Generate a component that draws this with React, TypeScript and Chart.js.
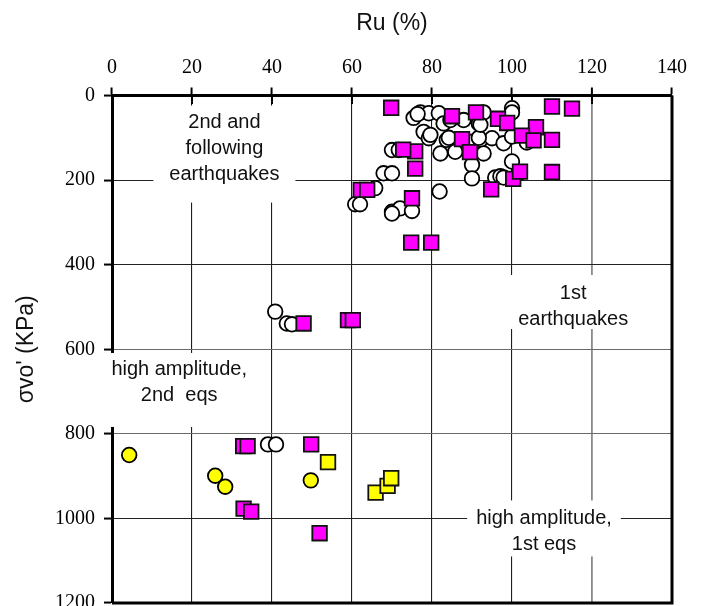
import { useEffect, useRef } from "react";
import { Chart, registerables } from "chart.js";

Chart.register(...registerables);

// ---- data (Ru %, σvo' kPa) ----
const magentaRu = [
  69.8, 110, 115, 106, 110, 110, 75.8, 75.8, 72.8, 75, 74.8, 79.8, 94.8, 62.2, 63.8,
  96.5, 98.8, 87.5, 89.5, 100.3, 102.5, 105.4, 85, 91, 102,
  47.9, 59.0, 60.2,
  32.8, 33.9, 49.8, 32.9, 34.8, 51.9,
];
const magentaSigma = [
  29, 26, 31, 75, 105, 181, 132, 173, 128, 243, 348, 348, 222, 223, 223,
  55, 65, 103, 134, 197, 95, 106, 49, 40, 180,
  539, 531, 531,
  829, 829, 825, 977, 984, 1035,
];

const whiteRu = [
  77.1, 79.2, 81.7, 82.9, 84.6, 87.9, 91.7, 92.9, 100, 100, 77.9, 79.2, 79.6, 83.7,
  85.8, 82.1, 90, 92.1, 95, 97.9, 100, 103.7, 92.9, 90, 90, 95.8, 97.1, 97.9, 100, 102,
  70, 71.7, 67.9, 70, 65.8, 60.8, 62, 70, 72, 75, 70, 81.9, 75.4, 76.4, 84.2, 91.7, 92.1,
  40.8, 43.7, 45,
  39, 41,
];
const whiteSigma = [
  40, 42, 42, 66, 58, 58, 66, 40, 30, 40, 86, 101, 93, 105,
  133, 137, 109, 105, 101, 113, 97, 111, 137, 164, 196, 194, 191, 194, 156, 182,
  129, 129, 184, 184, 219, 257, 257, 275, 267, 273, 279, 227, 53, 44, 100, 100, 69,
  511, 539, 541,
  825, 825,
];

const yellowCircleRu = [4.3, 25.8, 28.3, 49.7];
const yellowCircleSigma = [850, 899, 925, 910];

const yellowSquareRu = [54, 65.9, 68.9, 69.8];
const yellowSquareSigma = [867, 939, 923, 905];

const xMin = 0, xMax = 140, xStep = 20;
const yMin = 0, yMax = 1200, yStep = 200;

const xTitle = "Ru (%)";
const yTitle = "σvo' (KPa)";

const notes = [
  { lines: ["2nd and", "following", "earthquakes"], ru: 28.1, sigma: 64, padX: 16, up: 17, down: 28 },
  { lines: ["1st", "earthquakes"], ru: 115.3, sigma: 467, padX: 10, up: 18, down: 10 },
  { lines: ["high amplitude,", "2nd  eqs"], ru: 16.8, sigma: 649, padX: 12, up: 17, down: 31 },
  { lines: ["high amplitude,", "1st eqs"], ru: 108.0, sigma: 1000, padX: 9, up: 18, down: 12 },
];

const zip = (xs: number[], ys: number[]) => xs.map((x, i) => ({ x, y: ys[i] }));

const SANS = "'Liberation Sans', Arial, sans-serif";
const SERIF = "'Liberation Serif', 'Times New Roman', serif";

const framePlugin = {
  id: "frame",
  beforeDatasetsDraw(chart: any) {
    const { ctx, chartArea, scales } = chart;
    ctx.save();
    // inner half of the crossing ticks on the top axis
    ctx.strokeStyle = "#000";
    ctx.lineWidth = 2;
    for (let v = xMin; v <= xMax; v += xStep) {
      const px = scales.x.getPixelForValue(v);
      ctx.beginPath();
      ctx.moveTo(px, chartArea.top);
      ctx.lineTo(px, chartArea.top + 8.5);
      ctx.stroke();
    }
    // right and bottom frame
    ctx.lineWidth = 3;
    ctx.beginPath();
    ctx.moveTo(chartArea.left, chartArea.bottom);
    ctx.lineTo(chartArea.right, chartArea.bottom);
    ctx.lineTo(chartArea.right, chartArea.top);
    ctx.stroke();
    ctx.restore();
  },
  afterDraw(chart: any) {
    const { ctx, scales } = chart;
    ctx.save();
    ctx.font = `20px ${SANS}`;
    ctx.textAlign = "center";
    ctx.textBaseline = "middle";
    const lh = 26;
    for (const n of notes) {
      const cx = scales.x.getPixelForValue(n.ru);
      const cy = scales.y.getPixelForValue(n.sigma);
      const w = Math.max(...n.lines.map((l) => ctx.measureText(l).width));
      const top = cy - n.up;
      const bottom = cy + (n.lines.length - 1) * lh + n.down;
      ctx.fillStyle = "#fff";
      ctx.fillRect(cx - w / 2 - n.padX, top, w + 2 * n.padX, bottom - top);
      ctx.fillStyle = "#111";
      n.lines.forEach((l, i) => ctx.fillText(l, cx, cy + i * lh));
    }
    ctx.restore();
  },
};

export default function App() {
  const ref = useRef<HTMLCanvasElement | null>(null);
  useEffect(() => {
    if (!ref.current) return;
    const chart = new Chart(ref.current, {
      type: "scatter",
      data: {
        datasets: [
          {
            data: zip(magentaRu, magentaSigma),
            pointStyle: "rect",
            pointRadius: 10.3,
            backgroundColor: "#FF00FF",
            borderColor: "#111",
            borderWidth: 1.8,
          },
          {
            data: zip(yellowSquareRu, yellowSquareSigma),
            pointStyle: "rect",
            pointRadius: 10.3,
            backgroundColor: "#FFFF00",
            borderColor: "#111",
            borderWidth: 1.8,
          },
          {
            data: zip(whiteRu, whiteSigma),
            pointStyle: "circle",
            pointRadius: 7.3,
            backgroundColor: "#FFFFFF",
            borderColor: "#000",
            borderWidth: 1.8,
          },
          {
            data: zip(yellowCircleRu, yellowCircleSigma),
            pointStyle: "circle",
            pointRadius: 7.3,
            backgroundColor: "#FFFF00",
            borderColor: "#000",
            borderWidth: 1.8,
          },
        ] as any,
      },
      options: {
        animation: false,
        responsive: false,
        events: [],
        layout: { autoPadding: false, padding: { left: 0, top: 0, right: 32, bottom: 3 } },
        plugins: { legend: { display: false }, tooltip: { enabled: false } },
        scales: {
          x: {
            type: "linear",
            position: "top",
            min: xMin,
            max: xMax,
            ticks: {
              stepSize: xStep,
              font: { family: SERIF, size: 20 },
              color: "#000",
              padding: 8,
              callback: (v: any) => String(v),
            },
            grid: {
              color: (c: any) => {
                const v = c.tick?.value;
                if (v === xMin || v === xMax) return "rgba(0,0,0,0)";
                if (v === 120) return "#8a8a8a";
                return "#1e1e1e";
              },
              lineWidth: (c: any) => (c.tick?.value === 120 ? 1.8 : 1.1),
              drawTicks: true,
              tickLength: 8,
              tickWidth: 2,
              tickColor: "#000",
            },
            border: { display: true, color: "#000", width: 3 },
            title: {
              display: true,
              text: xTitle,
              font: { family: SANS, size: 23 },
              color: "#111",
              padding: { top: 10, bottom: 0 },
            },
            afterFit: (s: any) => {
              s.height = 95.5;
              s.paddingLeft = 0;
              s.paddingRight = 0;
            },
          },
          y: {
            type: "linear",
            position: "left",
            reverse: true,
            min: yMin,
            max: yMax,
            ticks: {
              stepSize: yStep,
              font: { family: SERIF, size: 20, lineHeight: 0.01 },
              color: "#000",
              padding: 9,
              callback: (v: any) => String(v),
            },
            grid: {
              color: (c: any) => {
                const v = c.tick?.value;
                if (v === yMin || v === yMax) return "rgba(0,0,0,0)";
                if (v === 600 || v === 800) return "#6a6a6a";
                return "#222";
              },
              lineWidth: 1.1,
              drawTicks: true,
              tickLength: 8,
              tickWidth: 2,
              tickColor: "#000",
            },
            border: { display: true, color: "#000", width: 3 },
            title: {
              display: true,
              text: yTitle,
              font: { family: SANS, size: 23 },
              color: "#111",
              padding: { top: 13, bottom: 0 },
            },
            afterFit: (s: any) => {
              s.width = 112;
              s.paddingTop = 0;
              s.paddingBottom = 0;
            },
          },
        },
      } as any,
      plugins: [framePlugin],
    });
    return () => chart.destroy();
  }, []);

  return (
    <div style={{ position: "fixed", left: 0, top: 0, width: 704, height: 606, background: "#fff" }}>
      <canvas ref={ref} width={704} height={606} style={{ display: "block" }} />
    </div>
  );
}
